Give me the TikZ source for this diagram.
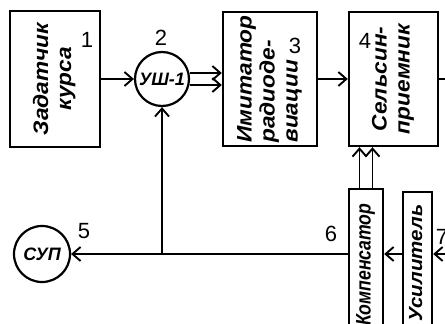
\documentclass[tikz,border=0pt]{standalone}
\usepackage{fontspec}
\usepackage{graphicx}
\setmainfont{Liberation Sans}
\newfontfamily\wideblk{Liberation Sans}[FakeStretch=1.08]
\newfontfamily\narrowblk{Liberation Sans}[FakeStretch=0.84]
\usetikzlibrary{
  arrows.meta
}
\newcommand{\vlab}[2][c]{\rotatebox{90}{\begin{tabular}{@{}#1@{}}#2\end{tabular}}}
\tikzset{
  blk/.style={
    draw, line width=2.4pt, inner sep=0pt,
    font=\wideblk\fontsize{21}{23}\selectfont\bfseries\itshape
  },
  slim/.style={blk, font=\narrowblk\fontsize{21}{23}\selectfont\bfseries\itshape},
  ring/.style={
    draw, circle, line width=2.2pt, inner sep=0pt, minimum size=54pt,
    font=\fontsize{18}{20}\selectfont\bfseries\itshape
  },
  num/.style={font=\fontsize{22}{22}\selectfont, inner sep=0pt},
  link/.style={line width=1.9pt},
  arr/.style={link, -{Straight Barb[length=8pt, width=14pt]}}
}
\begin{document}
\begin{tikzpicture}[x=1pt, y=-1pt]
  \useasboundingbox (0,0) rectangle (445,324);
  \clip (0,0) rectangle (445,324);

  % blocks
  \node[blk, minimum width=90pt, minimum height=136pt] (zad) at (55,79) {\vlab{Задатчик\\курса}};
  \node[ring] (ush) at (162,79) {УШ-1};
  \node[blk, minimum width=94pt, minimum height=134pt] (imit) at (270,79) {\vlab[l]{Имитатор\\радиоде-\\виации}};
  \node[blk, minimum width=89pt, minimum height=134pt] (sels) at (393.5,79) {\vlab{Сельсин-\\приемник}};
  \node[ring, minimum size=56pt] (sup) at (42,254) {СУП};
  \node[slim, minimum width=34pt, minimum height=151pt] (komp) at (366,264.5) {\vlab{Компенсатор}};
  \node[blk, minimum width=29pt, minimum height=142pt, font=\wideblk\fontsize{19}{23}\selectfont\bfseries\itshape] (usil) at (417.5,263) {\vlab{Усилитель}};

  % numbers
  \node[num] (n1) at (87,40) {1};
  \node[num] (n2) at (161,38) {2};
  \node[num] (n3) at (295,46) {3};
  \node[num] (n4) at (365,41) {4};
  \node[num] (n5) at (84,231) {5};
  \node[num] (n6) at (331,234) {6};
  \node[num] (n7) at (442,237) {7};

  % links
  \coordinate (out4) at (450,79);
  \coordinate (j) at (162,254);
  \coordinate (in7) at (450,254);
  \draw[arr] (zad) -- (ush);
  \draw[arr] ([yshift=6pt]ush.east) -- ([yshift=6pt]imit.west);
  \draw[arr] ([yshift=-6pt]ush.east) -- ([yshift=-6pt]imit.west);
  \draw[arr] (imit) -- (sels);
  \draw[link] (sels.east) -- (out4);
  \draw[arr] (j -| komp.west) -- (sup);
  \draw[arr] (j) -- (ush);
  \draw[arr] ([xshift=-6.5pt]komp.north) -- ([xshift=-6.5pt]komp.north |- sels.south);
  \draw[arr] ([xshift=6.5pt]komp.north) -- ([xshift=6.5pt]komp.north |- sels.south);
  \draw[arr] (in7) -- (in7 -| usil.east);
  \draw[arr] (in7 -| usil.west) -- (in7 -| komp.east);
\end{tikzpicture}
\end{document}
